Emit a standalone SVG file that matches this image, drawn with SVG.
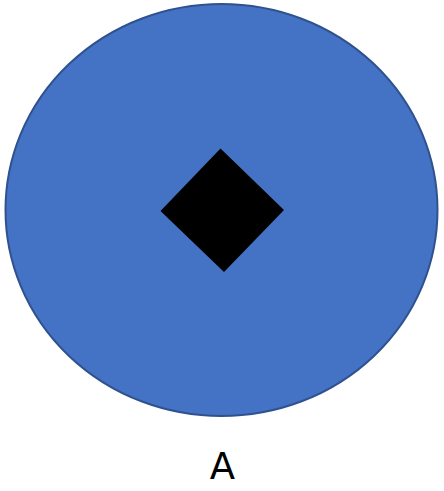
<svg xmlns="http://www.w3.org/2000/svg" width="444" height="491" viewBox="0 0 444 491">
<style>
.circle{fill:#4472C4;stroke:#2F528F;stroke-width:2}
.label{font-family:"DejaVu Sans","Noto Sans",sans-serif;font-size:37px;fill:#000;text-anchor:middle}
</style>
<rect width="444" height="491" fill="#fff"/>
<g id="node-circle">
<ellipse class="circle" cx="221.5" cy="210" rx="216" ry="206"/>
</g>
<g id="node-diamond">
<polygon points="220.5,148.5 284,210 224,272 160.5,211" fill="#000"/>
</g>
<g id="connectors"></g>
<g id="node-label">
<text class="label" x="222.5" y="479">A</text>
</g>
</svg>
